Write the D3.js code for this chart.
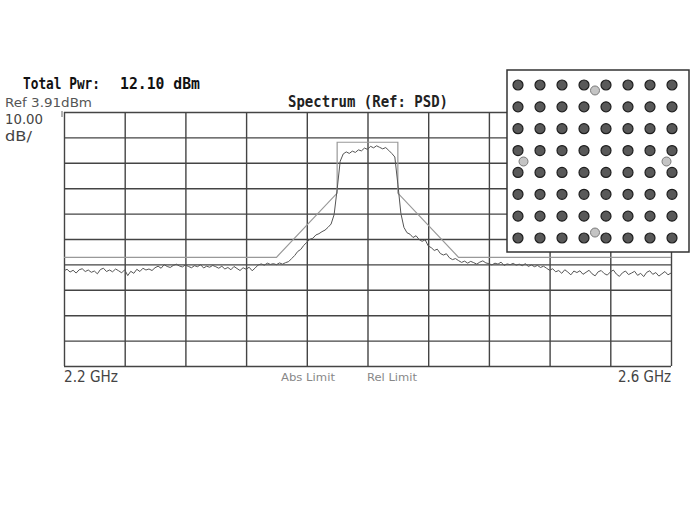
<!DOCTYPE html>
<html>
<head>
<meta charset="utf-8">
<script src="https://cdn.jsdelivr.net/npm/d3@7"></script>
<style>
  body { margin: 0; background: #fff; }
  svg { display: block; }
</style>
</head>
<body>
<div id="chart"></div>
<script>
// analyzer sweep settings
const startFreq = 2.2, stopFreq = 2.6;   // GHz
const refLevel = 3.91, dbPerDiv = 10, divisions = 10;
const freqStep = 0.002;

// measured trace, dBm, one value per sweep point (2.200 .. 2.600 GHz)
const traceLevels = [
  -58.6, -58.0, -59.1, -58.4, -59.5, -58.2, -57.8, -58.9, -58.3, -59.2,
  -58.7, -59.8, -58.1, -57.6, -58.9, -58.3, -59.0, -57.9, -58.6, -59.4,
  -58.2, -60.5, -58.8, -59.6, -58.0, -58.9, -57.6, -58.3, -57.9, -58.5,
  -57.4, -56.8, -57.6, -56.2, -56.9, -57.3, -56.5, -56.0, -56.7, -57.1,
  -56.3, -56.9, -57.4, -56.6, -57.0, -56.2, -57.5, -56.8, -57.2, -56.5,
  -57.0, -57.6, -56.8, -57.9, -57.3, -58.2, -56.9, -57.7, -58.5, -57.4,
  -58.0, -57.2, -58.6, -57.5, -56.3, -55.9, -56.4, -55.6, -56.1, -55.8,
  -56.2, -55.5, -56.0, -55.4, -55.0, -53.8, -52.6, -51.0, -50.2, -48.6,
  -47.4, -46.2, -45.8, -44.5, -44.0, -43.2, -42.6, -41.5, -40.2, -36.5,
  -26.5, -15.5, -12.6, -11.8, -12.4, -11.5, -12.0, -11.0, -11.4, -10.3,
  -10.8,  -9.6, -10.2,  -9.4, -10.0, -10.6, -10.1, -11.2, -12.4, -13.8,
  -24.5, -36.0, -41.5, -43.6, -44.2, -45.5, -44.8, -46.3, -47.0, -46.4,
  -48.8, -49.5, -50.6, -50.1, -51.8, -52.4, -51.9, -53.5, -54.2, -53.8,
  -54.6, -55.3, -54.8, -55.6, -54.9, -55.4, -56.0, -55.2, -54.7, -55.5,
  -55.8, -56.3, -55.6, -56.0, -55.2, -56.5, -55.9, -56.2, -55.7, -56.4,
  -56.0, -56.6, -55.8, -56.9, -56.3, -57.0, -56.5, -57.3, -56.8, -57.6,
  -58.4, -57.8, -59.0, -58.5, -59.6, -58.2, -59.1, -60.2, -58.7, -59.3,
  -58.6, -60.0, -59.2, -58.4, -59.8, -60.6, -59.0, -58.5, -59.7, -60.3,
  -59.1, -58.3, -59.9, -60.8, -59.4, -58.7, -60.1, -59.5, -58.8, -60.4,
  -59.6, -60.9, -59.2, -58.6, -60.0, -59.3, -60.7, -59.8, -58.9, -60.2, -59.5
];

// spectrum emission mask
const maskFreqs  = [2.2, 2.34, 2.38, 2.38, 2.42, 2.42, 2.46, 2.6];
const maskLevels = [-53.3, -53.3, -28, -8, -8, -28, -53.3, -53.3];

// constellation (64-QAM levels) + pilot symbols
const qamLevels = [-7, -5, -3, -1, 1, 3, 5, 7];
const pilotI = [0, -6.5, 6.5, 0];
const pilotQ = [6.5, 0, 0, -6.5];

const W = 696, H = 508;
const plot = { left: 64, top: 112, right: 671, bottom: 366 };

const svg = d3.select("#chart").append("svg")
  .attr("width", W).attr("height", H);

const x = d3.scaleLinear().domain([startFreq, stopFreq]).range([plot.left, plot.right]);
const y = d3.scaleLinear()
  .domain([refLevel - dbPerDiv * divisions, refLevel])
  .range([plot.bottom, plot.top]);

const xTicks = d3.range(divisions + 1).map(i => startFreq + i * (stopFreq - startFreq) / divisions);
const yTicks = d3.range(divisions + 1).map(i => refLevel - i * dbPerDiv);

// graticule
const gx = svg.append("g")
  .attr("transform", `translate(0,${plot.bottom})`)
  .call(d3.axisBottom(x).tickValues(xTicks).tickSize(-(plot.bottom - plot.top)).tickFormat(""));
const gy = svg.append("g")
  .attr("transform", `translate(${plot.left},0)`)
  .call(d3.axisLeft(y).tickValues(yTicks).tickSize(-(plot.right - plot.left)).tickFormat(""));
[gx, gy].forEach(g => {
  g.select(".domain").remove();
  g.selectAll(".tick line").attr("stroke", "#444").attr("stroke-width", 1.4);
});

// reference marker at top-left
svg.append("line")
  .attr("x1", plot.left - 2).attr("x2", plot.left - 2)
  .attr("y1", plot.top - 1).attr("y2", plot.top + 5)
  .attr("stroke", "#666").attr("stroke-width", 1);

// mask
svg.append("path")
  .datum(maskFreqs.map((f, i) => [f, maskLevels[i]]))
  .attr("fill", "none")
  .attr("stroke", "#999")
  .attr("stroke-width", 1.2)
  .attr("d", d3.line().x(d => x(d[0])).y(d => y(d[1])));

// trace
svg.append("path")
  .datum(traceLevels.map((v, i) => [startFreq + i * freqStep, v]))
  .attr("fill", "none")
  .attr("stroke", "#555")
  .attr("stroke-width", 1)
  .attr("d", d3.line().x(d => x(d[0])).y(d => y(d[1])));

// constellation inset
const inset = { left: 507, top: 70, right: 689, bottom: 252 };
svg.append("rect")
  .attr("x", inset.left).attr("y", inset.top)
  .attr("width", inset.right - inset.left).attr("height", inset.bottom - inset.top)
  .attr("fill", "#fff").attr("stroke", "#333").attr("stroke-width", 1.5);

const ci = d3.scaleLinear().domain([-7, 7]).range([518, 672]);
const cq = d3.scaleLinear().domain([-7, 7]).range([238, 85]);

const symbols = d3.cross(qamLevels, qamLevels);
svg.append("g").selectAll("circle")
  .data(symbols)
  .join("circle")
  .attr("cx", d => ci(d[0]))
  .attr("cy", d => cq(d[1]))
  .attr("r", 5)
  .attr("fill", "#595959")
  .attr("stroke", "#1e1e1e")
  .attr("stroke-width", 1.2);

svg.append("g").selectAll("circle")
  .data(pilotI.map((v, i) => [v, pilotQ[i]]))
  .join("circle")
  .attr("cx", d => ci(d[0]))
  .attr("cy", d => cq(d[1]))
  .attr("r", 4.5)
  .attr("fill", "#c4c4c4")
  .attr("stroke", "#7a7a7a")
  .attr("stroke-width", 1);

// labels
const mono = "'DejaVu Sans Mono', 'Liberation Mono', monospace";
const sans = "'DejaVu Sans', 'Liberation Sans', sans-serif";
function label(txt, px, py, opts) {
  const t = svg.append("text")
    .attr("x", px).attr("y", py)
    .attr("font-family", opts.bold ? mono : sans)
    .attr("font-size", opts.size)
    .attr("font-weight", opts.bold ? "bold" : "normal")
    .attr("fill", opts.color || "#222")
    .text(txt);
  if (opts.len) t.attr("textLength", opts.len).attr("lengthAdjust", "spacingAndGlyphs");
  if (opts.anchor) t.attr("text-anchor", opts.anchor);
  return t;
}

label("Total Pwr:", 23, 89, { size: 15, bold: true, len: 77, color: "#111" });
label("12.10 dBm", 120, 89, { size: 15, bold: true, len: 80, color: "#111" });
label("Ref 3.91dBm", 5, 107, { size: 13, len: 87, color: "#555" });
label("10.00", 5, 124, { size: 14, len: 38, color: "#444" });
label("dB/", 5, 141, { size: 14, len: 27, color: "#444" });
label("Spectrum (Ref: PSD)", 288, 107, { size: 15, bold: true, len: 160, color: "#222" });
label("2.2 GHz", 64, 382, { size: 15, len: 54, color: "#444" });
label("2.6 GHz", 618, 382, { size: 15, len: 53, color: "#444" });
label("Abs Limit", 281, 381, { size: 10, len: 54, color: "#888" });
label("Rel Limit", 367, 381, { size: 10, len: 50, color: "#888" });
</script>
</body>
</html>
